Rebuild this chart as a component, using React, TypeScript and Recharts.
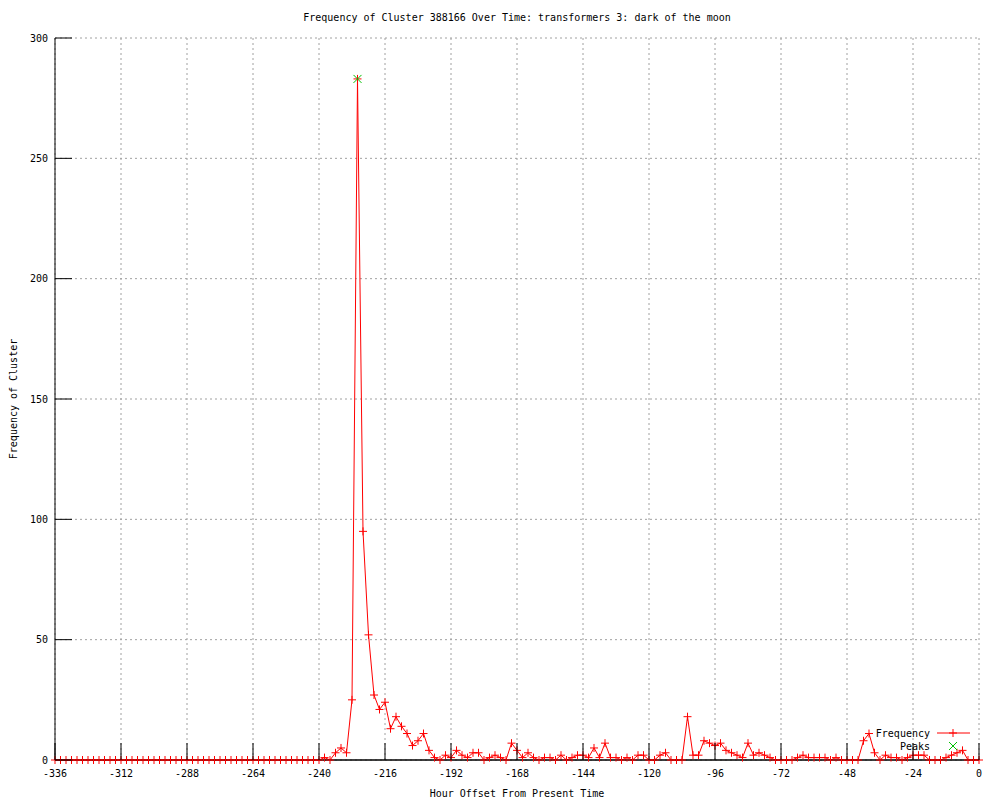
import React from 'react';
import { ComposedChart, Line, Scatter, XAxis, YAxis, CartesianGrid, ReferenceLine } from 'recharts';

const titleText = 'Frequency of Cluster 388166 Over Time: transformers 3: dark of the moon';
const xLabelText = 'Hour Offset From Present Time';
const yLabelText = 'Frequency of Cluster';
const legendNames: string[] = ['Frequency', 'Peaks'];

const startHour = -336;
const stepHours = 2;

const frequency: number[] = [
  // -336 .. -242
  0, 0, 0, 0, 0, 0, 0, 0, 0, 0, 0, 0,
  0, 0, 0, 0, 0, 0, 0, 0, 0, 0, 0, 0,
  0, 0, 0, 0, 0, 0, 0, 0, 0, 0, 0, 0,
  0, 0, 0, 0, 0, 0, 0, 0, 0, 0, 0, 0,
  // -240 .. -218
  0, 1, 0, 3, 5, 3, 25, 283, 95, 52, 27, 21,
  // -216 .. -194
  24, 13, 18, 14, 11, 6, 8, 11, 4, 1, 0, 2,
  // -192 .. -170
  1, 4, 2, 1, 3, 3, 0, 1, 2, 1, 0, 7,
  // -168 .. -146
  4, 1, 3, 1, 0, 1, 1, 0, 2, 0, 1, 2,
  // -144 .. -122
  2, 1, 5, 1, 7, 1, 1, 0, 1, 0, 2, 2,
  // -120 .. -98
  0, 0, 2, 3, 0, 0, 0, 18, 2, 2, 8, 7,
  // -96 .. -74
  6, 7, 4, 3, 2, 1, 7, 2, 3, 2, 1, 0,
  // -72 .. -50
  0, 0, 0, 1, 2, 1, 1, 1, 1, 0, 1, 0,
  // -48 .. -26
  0, 0, 0, 8, 11, 3, 0, 2, 1, 1, 0, 1,
  // -24 .. -2
  2, 2, 2, 0, 0, 0, 1, 2, 3, 4, 0, 0,
  // 0
  0,
];

const peakHours: number[] = [-226];
const peakValues: number[] = [283];

const xTicks: number[] = [-336, -312, -288, -264, -240, -216, -192, -168, -144, -120, -96, -72, -48, -24, 0];
const yTicks: number[] = [0, 50, 100, 150, 200, 250, 300];

const freqData = frequency.map((v, i) => ({ hour: startHour + i * stepHours, freq: v }));
const peakData = peakHours.map((h, i) => ({ hour: h, peak: peakValues[i] }));

const FONT = '"DejaVu Sans Mono", "Liberation Mono", monospace';
const TICK = 17;

const BottomTick = (props: any) => {
  const { x, y, payload } = props;
  return (
    <g>
      <line x1={x} y1={y} x2={x} y2={y - TICK} stroke="#000" strokeWidth={1} />
      <text x={x} y={y + 17} textAnchor="middle" fontSize={10} fontFamily={FONT} fill="#000">
        {String(payload.value)}
      </text>
    </g>
  );
};

const TopTick = (props: any) => {
  const { x, y } = props;
  return <line x1={x} y1={y} x2={x} y2={y + TICK} stroke="#000" strokeWidth={1} />;
};

const LeftTick = (props: any) => {
  const { x, y, payload } = props;
  return (
    <g>
      <line x1={x} y1={y} x2={x + TICK} y2={y} stroke="#000" strokeWidth={1} />
      <text x={x - 7} y={y + 3.5} textAnchor="end" fontSize={10} fontFamily={FONT} fill="#000">
        {String(payload.value)}
      </text>
    </g>
  );
};

const RightTick = (props: any) => {
  const { x, y } = props;
  return <line x1={x} y1={y} x2={x - TICK} y2={y} stroke="#000" strokeWidth={1} />;
};

const PlusDot = (props: any) => {
  const { cx, cy, index } = props;
  if (cx == null || cy == null) return <g key={`p${index}`} />;
  return (
    <path
      key={`p${index}`}
      d={`M${cx - 4},${cy}h8M${cx},${cy - 4}v8`}
      stroke="#ff0000"
      strokeWidth={1}
      fill="none"
    />
  );
};

const CrossShape = (props: any) => {
  const { cx, cy } = props;
  return (
    <path
      d={`M${cx - 4},${cy - 4}L${cx + 4},${cy + 4}M${cx - 4},${cy + 4}L${cx + 4},${cy - 4}`}
      stroke="#00c000"
      strokeWidth={1}
      fill="none"
    />
  );
};

const XAxisTitle = (props: any) => {
  const vb = props.viewBox || {};
  const cx = (vb.x ?? 55) + (vb.width ?? 924) / 2;
  const y = (vb.y ?? 760) + 36.5;
  return (
    <text x={cx} y={y} textAnchor="middle" fontSize={10} fontFamily={FONT} fill="#000">
      {xLabelText}
    </text>
  );
};

const YAxisTitle = (props: any) => {
  const vb = props.viewBox || {};
  const cy = (vb.y ?? 38) + (vb.height ?? 722) / 2;
  const x = 13;
  return (
    <text
      x={x}
      y={cy}
      transform={`rotate(-90 ${x} ${cy})`}
      textAnchor="middle"
      dominantBaseline="central"
      fontSize={10}
      fontFamily={FONT}
      fill="#000"
    >
      {yLabelText}
    </text>
  );
};

export default function App() {
  return (
    <div style={{ position: 'absolute', left: 0, top: 0, width: 1000, height: 800, background: '#fff' }}>
      <div
        style={{
          position: 'absolute',
          left: 55,
          top: 12,
          width: 924,
          textAlign: 'center',
          fontFamily: FONT,
          fontSize: 10,
          lineHeight: '12px',
          color: '#000',
          whiteSpace: 'nowrap',
        }}
      >
        {titleText}
      </div>
      <ComposedChart
        width={1000}
        height={800}
        data={freqData}
        margin={{ top: 38, right: 21, bottom: 0, left: 0 }}
      >
        <CartesianGrid
          xAxisId="bottom"
          yAxisId="left"
          stroke="#a0a0a0"
          strokeDasharray="2 3"
          horizontalValues={yTicks}
          verticalValues={xTicks}
        />
        <XAxis
          xAxisId="bottom"
          dataKey="hour"
          type="number"
          domain={[-336, 0]}
          ticks={xTicks}
          interval={0}
          height={40}
          tickSize={0}
          tickMargin={0}
          tick={<BottomTick />}
          axisLine={{ stroke: '#000' }}
          label={<XAxisTitle />}
        />
        <XAxis
          xAxisId="top"
          orientation="top"
          dataKey="hour"
          type="number"
          domain={[-336, 0]}
          ticks={xTicks}
          interval={0}
          height={0}
          tickSize={0}
          tickMargin={0}
          tick={<TopTick />}
          axisLine={{ stroke: '#000' }}
        />
        <YAxis
          yAxisId="left"
          type="number"
          domain={[0, 300]}
          ticks={yTicks}
          interval={0}
          width={55}
          tickSize={0}
          tickMargin={0}
          tick={<LeftTick />}
          axisLine={{ stroke: '#000' }}
          label={<YAxisTitle />}
        />
        <YAxis
          yAxisId="right"
          orientation="right"
          type="number"
          domain={[0, 300]}
          ticks={yTicks}
          interval={0}
          width={0}
          tickSize={0}
          tickMargin={0}
          tick={<RightTick />}
          axisLine={{ stroke: '#000' }}
        />
        <Line
          xAxisId="bottom"
          yAxisId="left"
          type="linear"
          dataKey="freq"
          name={legendNames[0]}
          stroke="#ff0000"
          strokeWidth={1}
          dot={PlusDot}
          activeDot={false}
          isAnimationActive={false}
        />
        <Scatter
          xAxisId="bottom"
          yAxisId="left"
          data={peakData}
          dataKey="peak"
          name={legendNames[1]}
          shape={CrossShape}
          isAnimationActive={false}
        />
        <ReferenceLine xAxisId="bottom" yAxisId="left" y={0} stroke="#000" strokeWidth={1} />
      </ComposedChart>
      <svg
        width={140}
        height={32}
        style={{ position: 'absolute', left: 840, top: 724, display: 'block', overflow: 'visible' }}
      >
        <text x={90} y={12.5} textAnchor="end" fontSize={10} fontFamily={FONT} fill="#000">{legendNames[0]}</text>
        <line x1={97} y1={9} x2={130} y2={9} stroke="#ff0000" strokeWidth={1} />
        <path d="M109,9h8M113,5v8" stroke="#ff0000" strokeWidth={1} />
        <text x={90} y={25.5} textAnchor="end" fontSize={10} fontFamily={FONT} fill="#000">{legendNames[1]}</text>
        <path d="M109,18L117,26M109,26L117,18" stroke="#00c000" strokeWidth={1} />
      </svg>
    </div>
  );
}
